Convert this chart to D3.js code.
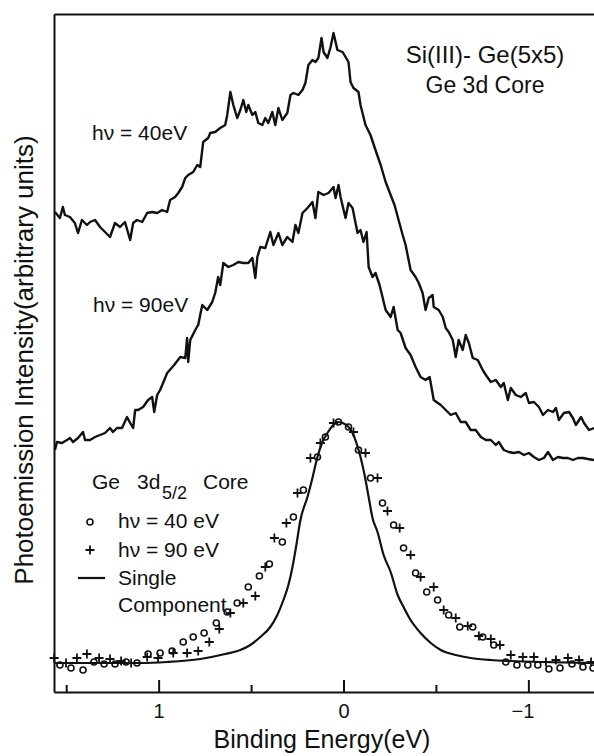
<!DOCTYPE html>
<html>
<head>
<meta charset="utf-8">
<script src="https://cdn.jsdelivr.net/npm/d3@7"></script>
<style>
  body { margin: 0; background: #fff; }
  svg text { font-family: "Liberation Sans", Arial, sans-serif; fill: #111; }
</style>
</head>
<body>
<svg id="chart" width="594" height="756"></svg>
<script>
// binding energy (eV) vs intensity (arb. units)
const scan40 = [
  [1.561,240],[1.534,237],[1.518,242.5],[1.507,238.5],[1.480,237.5],[1.453,234.5],[1.436,229.5],
  [1.415,236],[1.388,233.5],[1.371,235],[1.344,236],[1.317,232.5],[1.290,230],[1.263,227.5],
  [1.236,234.5],[1.209,232.5],[1.182,235],[1.154,226],[1.138,234.5],[1.117,236],[1.089,235],
  [1.062,239.5],[1.035,240],[1.008,239.5],[0.981,241],[0.954,240],[0.938,246],[0.911,247.5],
  [0.894,249.5],[0.873,252.5],[0.856,257],[0.840,258.5],[0.813,260],[0.791,263.5],[0.775,262.5],
  [0.759,275],[0.732,277],[0.721,279.5],[0.694,280],[0.667,282],[0.640,283.5],[0.629,288.5],
  [0.612,300],[0.596,293.5],[0.575,287],[0.558,291],[0.542,296],[0.526,290],[0.515,293.5],
  [0.493,288.5],[0.477,290],[0.461,284.5],[0.439,283.5],[0.423,287],[0.407,284.5],[0.385,290],
  [0.369,283.5],[0.352,292],[0.331,286],[0.304,289.5],[0.287,298.5],[0.271,299.5],[0.244,298.5],
  [0.222,301],[0.206,304.5],[0.190,313.5],[0.168,316],[0.152,315],[0.136,317],[0.119,327],
  [0.108,320],[0.087,317],[0.070,322.5],[0.054,329.5],[0.033,321],[0.005,320],[-0.011,317.5],
  [-0.027,315],[-0.038,305],[-0.054,302],[-0.081,300],[-0.092,293.5],[-0.119,283.5],[-0.146,278.5],
  [-0.173,271],[-0.201,263.5],[-0.228,255],[-0.255,248.5],[-0.276,243.5],[-0.298,236],[-0.320,228.5],
  [-0.336,223.5],[-0.363,211],[-0.390,207.5],[-0.407,204.5],[-0.428,199.5],[-0.444,191],[-0.461,197],
  [-0.482,198.5],[-0.488,192.5],[-0.515,191],[-0.537,187.5],[-0.553,182],[-0.569,180],[-0.591,176],
  [-0.607,167.5],[-0.623,176],[-0.645,171],[-0.661,178.5],[-0.678,174.5],[-0.699,167],[-0.726,166],
  [-0.753,161],[-0.770,158.5],[-0.797,155],[-0.824,156],[-0.851,152.5],[-0.867,154.5],[-0.889,146],
  [-0.905,152],[-0.932,148.5],[-0.959,147.5],[-0.986,149.5],[-1.003,144.5],[-1.030,145],[-1.057,142.5],
  [-1.079,138.5],[-1.106,141],[-1.133,140],[-1.149,142],[-1.165,136],[-1.192,139.5],[-1.220,140],
  [-1.241,137],[-1.257,133.5],[-1.285,137.5],[-1.301,134.5],[-1.328,131],[-1.355,132]
];

const scan90 = [
  [1.561,121],[1.550,125],[1.523,124.5],[1.496,126],[1.480,127],[1.463,125],[1.436,127],[1.409,130],
  [1.398,126],[1.371,126],[1.344,127.5],[1.317,128.5],[1.290,129.5],[1.263,132],[1.247,130],
  [1.225,132],[1.198,132],[1.171,137.5],[1.154,134.5],[1.138,132],[1.127,141],[1.111,141],
  [1.084,142.5],[1.057,146],[1.035,147.5],[1.024,140],[1.008,148.5],[0.992,151],[0.976,154.5],
  [0.954,159.5],[0.916,163.5],[0.883,167.5],[0.856,167],[0.846,177],[0.840,165],[0.829,176],
  [0.802,181],[0.786,183.5],[0.764,193.5],[0.737,191],[0.710,195],[0.694,199.5],[0.678,207.5],
  [0.667,203.5],[0.650,214.5],[0.623,212.5],[0.596,213.5],[0.569,215],[0.542,214.5],[0.515,214.5],
  [0.493,217],[0.477,207],[0.466,217.5],[0.450,222.5],[0.423,222],[0.396,230],[0.379,223.5],
  [0.352,229.5],[0.331,223.5],[0.304,227.5],[0.276,225],[0.260,233.5],[0.244,229.5],[0.222,239.5],
  [0.195,242],[0.168,245],[0.152,237],[0.136,250],[0.108,248.5],[0.081,249.5],[0.054,252.5],
  [0.043,247],[0.027,253.5],[0.016,247.5],[-0.011,237],[-0.027,244.5],[-0.049,242],[-0.076,229.5],
  [-0.092,231],[-0.108,225],[-0.125,230],[-0.136,212.5],[-0.157,207.5],[-0.173,209.5],[-0.195,203.5],
  [-0.228,191],[-0.255,187.5],[-0.271,192.5],[-0.293,181],[-0.309,179.5],[-0.336,172],[-0.363,168.5],
  [-0.390,162.5],[-0.417,157.5],[-0.444,156],[-0.466,157.5],[-0.488,146],[-0.526,143.5],[-0.553,141],
  [-0.580,138.5],[-0.607,139.5],[-0.634,135],[-0.661,135],[-0.688,131],[-0.715,131],[-0.743,127.5],
  [-0.770,126],[-0.797,126],[-0.824,123.5],[-0.840,125],[-0.867,121],[-0.894,120],[-0.921,119.5],
  [-0.949,120],[-0.976,118.5],[-1.003,119.5],[-1.030,117.5],[-1.057,116],[-1.084,117],[-1.106,120],
  [-1.133,116],[-1.160,117.5],[-1.187,117],[-1.214,117],[-1.241,116],[-1.268,117],[-1.295,117],
  [-1.322,116.5],[-1.355,116]
];

const singleComponent = [
  [1.566,14.5],[1.317,14.5],[1.100,14.5],[0.954,15],[0.775,16.5],[0.640,19],[0.558,21],[0.504,23.5],
  [0.450,27.5],[0.396,32.5],[0.358,38.5],[0.325,46],[0.298,53.5],[0.276,62.5],[0.255,73.5],
  [0.233,86],[0.195,97.5],[0.168,107],[0.141,117.5],[0.114,125],[0.087,129.5],[0.060,133],
  [0.033,135],[0.005,134.5],[-0.022,133],[-0.049,129.5],[-0.070,124.5],[-0.092,117.5],[-0.114,108.5],
  [-0.136,97.5],[-0.157,87],[-0.184,80],[-0.217,68.5],[-0.255,60],[-0.293,48.5],[-0.325,42.5],
  [-0.363,36],[-0.417,29.5],[-0.472,24.5],[-0.526,21],[-0.607,18.5],[-0.688,17],[-0.797,16],
  [-0.905,15.5],[-1.068,15],[-1.355,14.5]
];

const points40 = [
  [1.534,13.5],[1.474,12],[1.409,11],[1.350,15],[1.295,14],[1.236,14],[1.176,15],[1.117,14.5],
  [1.057,19],[0.992,19.5],[0.927,20.5],[0.867,25],[0.813,27.5],[0.754,29.5],[0.688,34.5],[0.629,40],
  [0.575,44.5],[0.515,52.5],[0.455,58],[0.401,64],[0.331,75],[0.271,87.5],[0.217,101],[0.141,117.5],
  [0.098,127.5],[0.027,135],[-0.027,132.5],[-0.081,121],[-0.146,107],[-0.211,94.5],[-0.271,83.5],
  [-0.325,72],[-0.390,59.5],[-0.450,50],[-0.509,46],[-0.569,38.5],[-0.629,32.5],[-0.699,32.5],
  [-0.753,27.5],[-0.813,23.5],[-0.878,15],[-0.938,13.5],[-0.997,13.5],[-1.051,13.5],[-1.111,11.5],
  [-1.171,12],[-1.236,14],[-1.295,12.5],[-1.350,12]
];

const points90 = [
  [1.565,17],[1.501,14.5],[1.442,17],[1.388,19],[1.322,17],[1.263,16.5],[1.203,15.5],[1.149,14.5],
  [1.062,17.5],[1.003,17],[0.921,19.5],[0.846,19.5],[0.786,20.5],[0.726,25],[0.672,31.5],[0.612,39.5],
  [0.542,44.5],[0.477,48],[0.423,62.5],[0.374,77],[0.309,84.5],[0.249,99.5],[0.179,117],[0.125,124.5],
  [0.054,134.5],[-0.054,130],[-0.119,119.5],[-0.184,107],[-0.238,90.5],[-0.304,82],[-0.363,68.5],
  [-0.417,57.5],[-0.488,52.5],[-0.542,41],[-0.607,37],[-0.672,33],[-0.732,28],[-0.797,26.5],
  [-0.846,23.5],[-0.905,18.5],[-0.970,17.5],[-1.030,17.5],[-1.095,15],[-1.149,16],[-1.214,17],
  [-1.274,16],[-1.339,15]
];

const majorTicks = [1, 0, -1];
const minorTicks = [1.5, 0.5, -0.5];

const svg = d3.select("#chart");
const margin = { top: 14, right: 0, bottom: 64, left: 54 };
const width = +svg.attr("width") - margin.left - margin.right;
const height = +svg.attr("height") - margin.top - margin.bottom;

const x = d3.scaleLinear().domain([1.566, -1.355]).range([0, width]);
const y = d3.scaleLinear().domain([0, 339]).range([height, 0]);

const g = svg.append("g").attr("transform", `translate(${margin.left},${margin.top})`);

// frame: top and left are plain lines
g.append("g").attr("class", "axis").call(d3.axisTop(x).tickValues([]).tickSizeOuter(0));
g.append("g").attr("class", "axis").call(d3.axisLeft(y).tickValues([]).tickSizeOuter(0));

g.append("g")
  .attr("class", "axis axis--x")
  .attr("transform", `translate(0,${height})`)
  .call(d3.axisBottom(x)
    .tickValues(majorTicks)
    .tickSizeInner(-12)
    .tickSizeOuter(0)
    .tickPadding(12)
    .tickFormat(d => d < 0 ? "\u2212" + Math.abs(d) : d));

g.append("g")
  .attr("class", "axis axis--minor")
  .attr("transform", `translate(0,${height})`)
  .call(d3.axisBottom(x).tickValues(minorTicks).tickSizeInner(-7).tickSizeOuter(0).tickFormat(""))
  .select(".domain").remove();

g.selectAll(".axis path, .axis line").attr("stroke", "#111").attr("stroke-width", 2);
g.selectAll(".axis--x text")
  .attr("font-size", 20)
  .attr("fill", "#111")
  .attr("font-family", "Liberation Sans, Arial, sans-serif")
  .attr("dx", d => d < 0 ? -6 : 0);

const line = d3.line().x(d => x(d[0])).y(d => y(d[1]));

[scan40, scan90].forEach(s => {
  g.append("path")
    .datum(s)
    .attr("fill", "none")
    .attr("stroke", "#111")
    .attr("stroke-width", 2.4)
    .attr("stroke-linejoin", "round")
    .attr("d", line);
});

g.append("path")
  .datum(singleComponent)
  .attr("fill", "none")
  .attr("stroke", "#111")
  .attr("stroke-width", 2.2)
  .attr("d", line.curve(d3.curveMonotoneX));

g.selectAll(".pt40")
  .data(points40)
  .enter().append("circle")
  .attr("class", "pt40")
  .attr("cx", d => x(d[0]))
  .attr("cy", d => y(d[1]))
  .attr("r", 3)
  .attr("fill", "none")
  .attr("stroke", "#111")
  .attr("stroke-width", 1.6);

g.selectAll(".pt90")
  .data(points90)
  .enter().append("path")
  .attr("class", "pt90")
  .attr("transform", d => `translate(${x(d[0])},${y(d[1])})`)
  .attr("d", "M-4.5,0H4.5M0,-4.5V4.5")
  .attr("stroke", "#111")
  .attr("stroke-width", 1.8);

// axis titles
svg.append("text")
  .attr("x", 322).attr("y", 748)
  .attr("text-anchor", "middle")
  .attr("font-size", 25)
  .text("Binding Energy(eV)");

svg.append("text")
  .attr("transform", "translate(33,360) rotate(-90)")
  .attr("text-anchor", "middle")
  .attr("font-size", 26)
  .text("Photoemission Intensity(arbitrary units)");

// annotations
svg.append("text").attr("x", 485).attr("y", 63).attr("text-anchor", "middle")
  .attr("font-size", 24).text("Si(III)- Ge(5x5)");
svg.append("text").attr("x", 485).attr("y", 93).attr("text-anchor", "middle")
  .attr("font-size", 23).text("Ge 3d Core");
svg.append("text").attr("x", 92).attr("y", 140).attr("font-size", 21).text("h\u03bd = 40eV");
svg.append("text").attr("x", 93).attr("y", 312).attr("font-size", 21).text("h\u03bd = 90eV");

// legend
const lg = svg.append("g");
lg.append("text").attr("x", 92).attr("y", 489).attr("font-size", 21).text("Ge");
lg.append("text").attr("x", 137).attr("y", 489).attr("font-size", 21).text("3d");
lg.append("text").attr("x", 162).attr("y", 499).attr("font-size", 18).text("5/2");
lg.append("text").attr("x", 203).attr("y", 489).attr("font-size", 21).text("Core");

lg.append("circle").attr("cx", 90).attr("cy", 522).attr("r", 3)
  .attr("fill", "none").attr("stroke", "#111").attr("stroke-width", 1.6);
lg.append("text").attr("x", 118).attr("y", 528).attr("font-size", 21).text("h\u03bd = 40 eV");
lg.append("path").attr("transform", "translate(90,550)").attr("d", "M-4.5,0H4.5M0,-4.5V4.5")
  .attr("stroke", "#111").attr("stroke-width", 1.8);
lg.append("text").attr("x", 118).attr("y", 557).attr("font-size", 21).text("h\u03bd = 90 eV");
lg.append("line").attr("x1", 78).attr("x2", 105).attr("y1", 578).attr("y2", 578)
  .attr("stroke", "#111").attr("stroke-width", 2.2);
lg.append("text").attr("x", 118).attr("y", 585).attr("font-size", 21).text("Single");
lg.append("text").attr("x", 118).attr("y", 612).attr("font-size", 21).text("Component");
</script>
</body>
</html>
